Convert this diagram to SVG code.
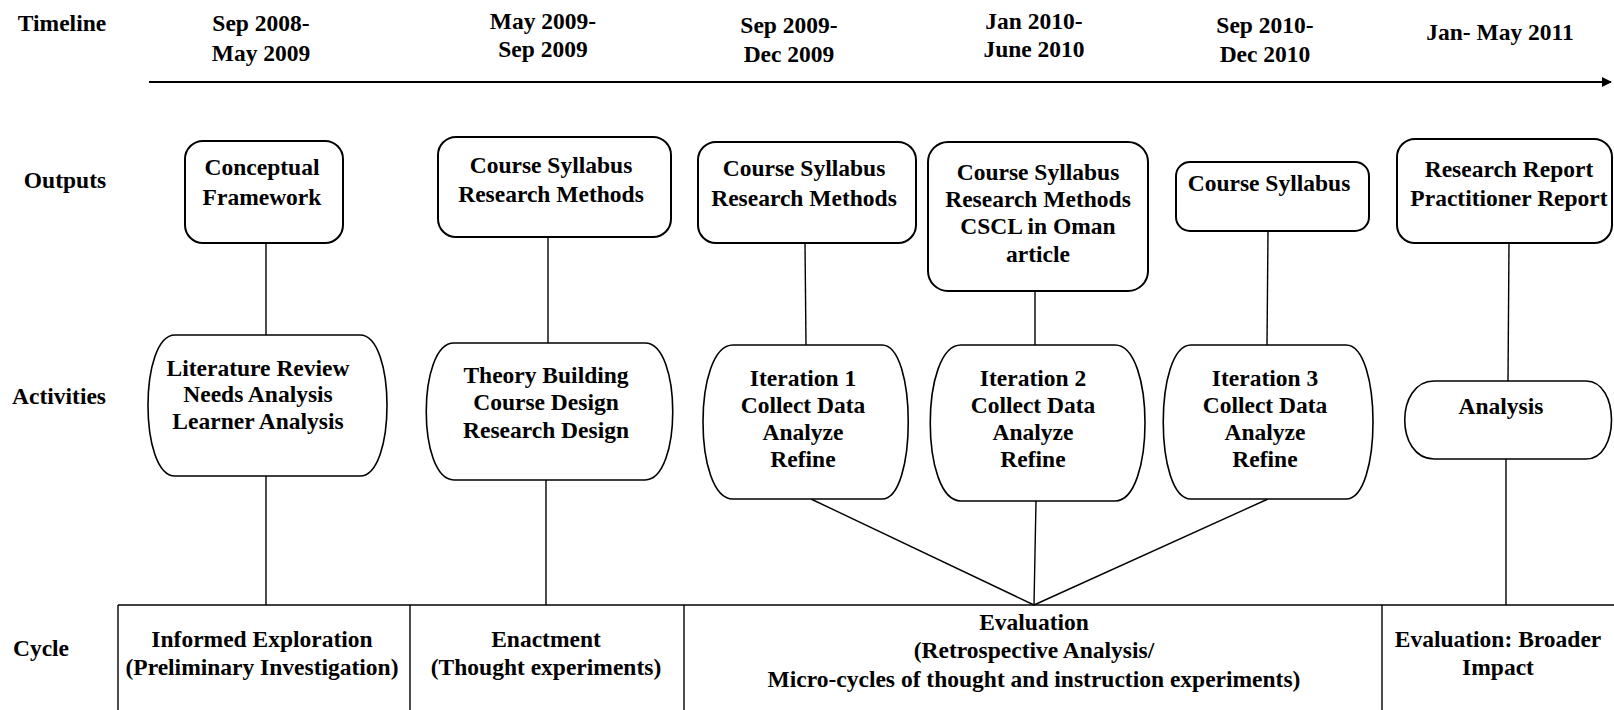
<svg xmlns="http://www.w3.org/2000/svg" width="1614" height="710" viewBox="0 0 1614 710">
<style>
text{font-weight:bold;font-size:23.5px;fill:#000;text-anchor:middle;dominant-baseline:central}
.box{fill:#fff;stroke:#000;stroke-width:2}
.act{fill:#fff;stroke:#000;stroke-width:1.6}
.ln{stroke:#000;stroke-width:1.4;fill:none}
</style>
<defs>
<marker id="ah" markerWidth="10" markerHeight="10" refX="9" refY="5" orient="auto" markerUnits="userSpaceOnUse">
<path d="M0,0 L10,5 L0,10 Z" fill="#000"/>
</marker>
</defs>
<rect width="1614" height="710" fill="#fff"/>
<g font-family="'Liberation Serif', serif">

<g id="labels">
<text x="62" y="23">Timeline</text>
<text x="65" y="180">Outputs</text>
<text x="59" y="396">Activities</text>
<text x="41" y="648">Cycle</text>
</g>

<g id="timeline">
<text x="261" y="23">Sep 2008-</text><text x="261" y="53">May 2009</text>
<text x="543" y="21">May 2009-</text><text x="543" y="49">Sep 2009</text>
<text x="789" y="25">Sep 2009-</text><text x="789" y="54">Dec 2009</text>
<text x="1034" y="21">Jan 2010-</text><text x="1034" y="49">June 2010</text>
<text x="1265" y="25">Sep 2010-</text><text x="1265" y="54">Dec 2010</text>
<text x="1500" y="32">Jan- May 2011</text>
<line x1="149" y1="82" x2="1611" y2="82" stroke="#000" stroke-width="2.2" marker-end="url(#ah)"/>
</g>

<g id="connectors">
<line class="ln" x1="266" y1="243" x2="266" y2="335"/>
<line class="ln" x1="266" y1="476" x2="266" y2="605"/>
<line class="ln" x1="548" y1="237" x2="548" y2="343"/>
<line class="ln" x1="546" y1="480" x2="546" y2="605"/>
<line class="ln" x1="805" y1="243" x2="806" y2="345"/>
<line class="ln" x1="1035" y1="291" x2="1035" y2="345"/>
<line class="ln" x1="1268" y1="231" x2="1267" y2="345"/>
<line class="ln" x1="1509" y1="243" x2="1508" y2="381"/>
<line class="ln" x1="1506" y1="459" x2="1506" y2="605"/>
<line class="ln" x1="811" y1="499" x2="1034" y2="605"/>
<line class="ln" x1="1036" y1="501" x2="1034" y2="605"/>
<line class="ln" x1="1268" y1="499" x2="1034" y2="605"/>
</g>

<g id="out1"><rect class="box" x="185" y="141" width="158" height="102" rx="18"/>
<text x="262" y="167">Conceptual</text><text x="262" y="197">Framework</text></g>
<g id="out2"><rect class="box" x="438" y="137" width="233" height="100" rx="18"/>
<text x="551" y="165">Course Syllabus</text><text x="551" y="194">Research Methods</text></g>
<g id="out3"><rect class="box" x="698" y="142" width="218" height="101" rx="18"/>
<text x="804" y="168">Course Syllabus</text><text x="804" y="198">Research Methods</text></g>
<g id="out4"><rect class="box" x="928" y="142" width="220" height="149" rx="20"/>
<text x="1038" y="172">Course Syllabus</text><text x="1038" y="199">Research Methods</text><text x="1038" y="226">CSCL in Oman</text><text x="1038" y="254">article</text></g>
<g id="out5"><rect class="box" x="1176" y="162" width="193" height="69" rx="14"/>
<text x="1269" y="183">Course Syllabus</text></g>
<g id="out6"><rect class="box" x="1397" y="139" width="215" height="104" rx="18"/>
<text x="1509" y="169">Research Report</text><text x="1509" y="198">Practitioner Report</text></g>

<g id="act1"><path class="act" d="M175,335 H360 C396,335 396,476 360,476 H175 C139,476 139,335 175,335 Z"/>
<text x="258" y="368">Literature Review</text><text x="258" y="394">Needs Analysis</text><text x="258" y="421">Learner Analysis</text></g>
<g id="act2"><path class="act" d="M454,343 H645 C682,343 682,480 645,480 H454 C417,480 417,343 454,343 Z"/>
<text x="546" y="375">Theory Building</text><text x="546" y="402">Course Design</text><text x="546" y="430">Research Design</text></g>
<g id="act3"><path class="act" d="M733,345 H882 C917,345 917,499 882,499 H733 C693,499 693,345 733,345 Z"/>
<text x="803" y="378">Iteration 1</text><text x="803" y="405">Collect Data</text><text x="803" y="432">Analyze</text><text x="803" y="459">Refine</text></g>
<g id="act4"><path class="act" d="M961,345 H1115 C1155,345 1155,501 1115,501 H961 C920,501 920,345 961,345 Z"/>
<text x="1033" y="378">Iteration 2</text><text x="1033" y="405">Collect Data</text><text x="1033" y="432">Analyze</text><text x="1033" y="459">Refine</text></g>
<g id="act5"><path class="act" d="M1191,345 H1346 C1382,345 1382,499 1346,499 H1191 C1154,499 1154,345 1191,345 Z"/>
<text x="1265" y="378">Iteration 3</text><text x="1265" y="405">Collect Data</text><text x="1265" y="432">Analyze</text><text x="1265" y="459">Refine</text></g>
<g id="act6"><path class="act" d="M1434,381 H1586 C1620,381 1620,459 1586,459 H1434 C1395,459 1395,381 1434,381 Z"/>
<text x="1501" y="406">Analysis</text></g>

<g id="cycle">
<line class="ln" x1="118" y1="605" x2="1614" y2="605"/>
<line class="ln" x1="118" y1="605" x2="118" y2="710"/>
<line class="ln" x1="410" y1="605" x2="410" y2="710"/>
<line class="ln" x1="684" y1="605" x2="684" y2="710"/>
<line class="ln" x1="1382" y1="605" x2="1382" y2="710"/>
<text x="262" y="639">Informed Exploration</text><text x="262" y="667">(Preliminary Investigation)</text>
<text x="546" y="639">Enactment</text><text x="546" y="667">(Thought experiments)</text>
<text x="1034" y="622">Evaluation</text><text x="1034" y="650">(Retrospective Analysis/</text><text x="1034" y="679">Micro-cycles of thought and instruction experiments)</text>
<text x="1498" y="639">Evaluation: Broader</text><text x="1498" y="667">Impact</text>
</g>
</g>
</svg>
